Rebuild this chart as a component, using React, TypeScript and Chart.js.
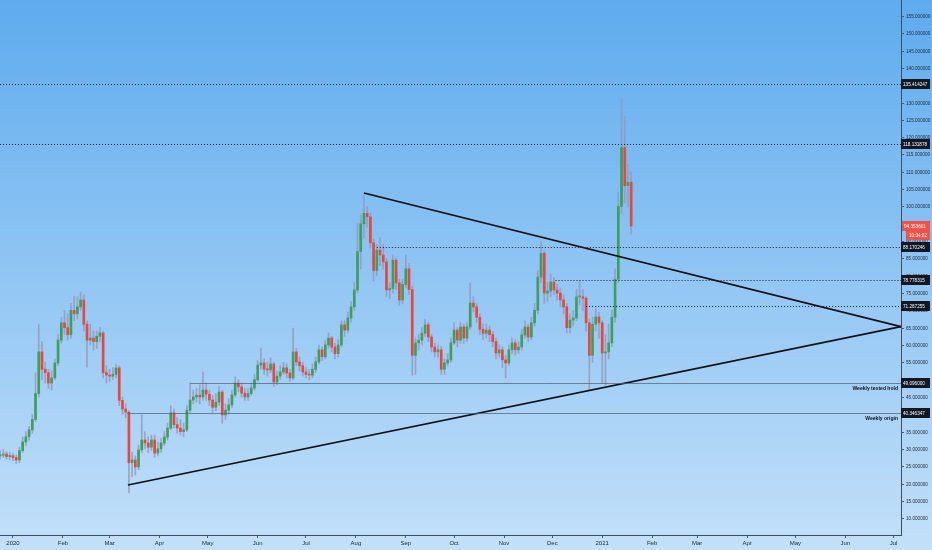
import React, { useEffect, useRef } from 'react';
import { Chart, registerables } from 'chart.js';

Chart.register(...registerables);

// ---- time axis (days since 2020-01-01), one candle every two days ----
const START_DAY = -8;
const STEP_DAYS = 2;
const OPEN0 = 28.0;

const closes = [
  28.2, 28.5, 27.8, 28.0, 27.5, 26.8, 29.5, 32.0, 33.5, 35.5,
  38.5, 46, 58, 53, 52, 49, 50.5, 54.8, 61.4, 66.4,
  65, 63, 70, 69, 71, 73, 66, 61.4, 62, 61,
  62.5, 63.5, 52, 51.3, 51, 51.5, 53.4, 44, 41.5, 40.6,
  26, 26.8, 24.8, 29.7, 32.6, 31.7, 30.5, 32.6, 28.8, 30,
  31.7, 33.4, 36, 40.4, 37, 36, 35, 35.5, 41.2, 44.1,
  45, 45.5, 45, 47, 45.8, 44.1, 42, 43.5, 46.4, 39.8,
  41.2, 42.7, 45.6, 49, 47.9, 46.1, 45, 46, 47.6, 50,
  54.2, 54.8, 53, 52.8, 54.5, 49.3, 51, 52.2, 53.4, 51.9,
  50.5, 58, 55.1, 54, 52.2, 51.5, 51.3, 53, 55.1, 58.6,
  56.6, 60, 62, 59.4, 57.5, 60, 65.8, 64.3, 67.8, 71,
  75.9, 87, 95, 98, 97, 89.5, 81.5, 87.4, 86, 84,
  75.9, 76.3, 84.5, 77.9, 73, 77.5, 82, 76, 57, 60.6,
  61.4, 63.4, 65.8, 62.3, 59.4, 58, 58.6, 53, 54.8, 55.7,
  60.6, 64.3, 61.4, 65.2, 62, 65.2, 72.1, 71, 68, 64.5,
  63.4, 64.3, 63, 61, 57.7, 58.6, 55.7, 54.8, 58.6, 60.6,
  58.6, 59.4, 62.9, 65.2, 62.3, 66.4, 70, 79.6, 86.5, 75,
  75.6, 78.2, 75.9, 75, 73, 71, 65, 67.2, 67.8, 73.9,
  73.9, 73.5, 66.4, 57, 66, 68.1, 66.4, 57.7, 58, 60.6,
  68, 79, 100, 117, 106, 107, 94.35,
];

const highs = [
  29.5, 29.8, 29.2, 29.0, 28.8, 28.2, 30.5, 33.5, 35, 36.5,
  40, 52, 66, 61, 55, 53, 52.5, 56, 63, 68,
  70, 69, 72, 74, 74, 75.3, 74.5, 67, 66, 64,
  64, 65, 64, 54, 53, 53.5, 54.5, 54, 45, 43,
  41, 29, 28, 31, 39.8, 35, 33.5, 34, 34, 32,
  33, 35, 37.5, 42.4, 41.5, 39, 38.5, 37.5, 42.5, 49,
  47, 47.5, 48.5, 52.2, 49, 47, 45.5, 46, 48, 47,
  43, 44.5, 47, 50.8, 50, 49, 47.5, 47.5, 49, 51.5,
  55.5, 59.1, 56, 55, 56.3, 55, 52.5, 54, 55, 54.5,
  53, 64.9, 59, 56.5, 55, 53.5, 53, 54.5, 56.5, 60,
  59.5, 61.5, 63.5, 62.5, 60.5, 61.5, 67, 67, 69.5, 72.5,
  78, 95.2, 97.5, 103.3, 100, 98, 90.5, 89, 90.9, 89,
  85, 78, 86, 85, 79, 79, 86, 83.5, 77, 62,
  63, 65, 67.5, 66.5, 63, 60.5, 60, 59.5, 56, 57.5,
  62, 66.5, 65, 66.5, 66, 66.5, 77.9, 74, 72, 69,
  66, 66, 65.5, 64, 62, 60, 59.5, 57, 60, 62,
  61.5, 61, 64.5, 67, 66, 68, 72, 81.5, 89.7, 87,
  78, 80.5, 79.5, 77.5, 76.5, 74.5, 72, 69, 70, 76,
  78.5, 76, 74, 67.5, 68, 70.5, 69.5, 67, 63, 66,
  70, 82, 104, 131.3, 126, 112, 110,
];

const lows = [
  27.0, 27.5, 27.0, 26.8, 26.5, 25.8, 26.0, 29, 31, 32.5,
  34.5, 38, 45, 50, 49, 47.5, 47, 50, 54, 60.5,
  63, 61.5, 62, 67, 67.5, 70, 64, 53.6, 60, 58.5,
  59, 61, 50.5, 49, 49.5, 50, 50.5, 42.5, 40, 39,
  17.3, 22, 22.5, 24, 29, 30, 29, 29.5, 27.5, 28,
  29, 31, 32.5, 35.5, 36, 34.5, 34, 33.5, 35, 40.5,
  43, 43.5, 43, 44, 44, 42.5, 40.5, 41, 42.5, 37.4,
  38.5, 40, 42, 45, 46.5, 45, 44, 44, 45.5, 47,
  49.5, 53, 51.5, 51, 52, 48, 48.5, 50, 51.5, 50.5,
  49.5, 50, 54, 52.5, 51, 50.5, 50, 50.5, 52, 54.5,
  55.5, 56, 59, 58, 56, 56.5, 59.5, 62.5, 63.5, 66.5,
  70, 75, 82, 91, 94, 88, 78.5, 80, 83, 82,
  74, 73.5, 75, 76, 71.5, 72, 76.5, 74.5, 51.3, 51.5,
  58.5, 60, 62.5, 61, 58, 56.5, 56.5, 51.5, 51.5, 54,
  55, 60, 59.5, 60.5, 60.5, 61, 64.5, 69.5, 66.5, 63,
  61.5, 62, 61, 59.5, 56, 56.5, 53.5, 50.5, 54, 57.5,
  57, 57.5, 58.5, 62, 61, 61.5, 65.5, 69, 78, 72,
  72.5, 74, 74.5, 73, 71, 69, 63.5, 63.5, 65.5, 67,
  71.5, 70, 64, 47, 55, 64, 62, 49, 48.5, 56,
  59.5, 66.5, 78, 98, 101, 100, 92,
];

// ---- axes ----
const monthTickDays = [0, 31, 60, 91, 121, 152, 182, 213, 244, 274, 305, 335, 366, 397, 425, 456, 486, 517, 547];
const monthTickLabels = ['2020', 'Feb', 'Mar', 'Apr', 'May', 'Jun', 'Jul', 'Aug', 'Sep', 'Oct', 'Nov', 'Dec', '2021', 'Feb', 'Mar', 'Apr', 'May', 'Jun', 'Jul'];
const yTickValues = [10, 15, 20, 25, 30, 35, 40, 45, 50, 55, 60, 65, 70, 75, 80, 85, 90, 95, 100, 105, 110, 115, 120, 125, 130, 135, 140, 145, 150, 155];
const X_MIN = -8.07;
const X_MAX = 551.6;
const Y_MIN = 5.14;
const Y_MAX = 159.6;

// ---- drawings ----
const levelValues = [135.414247, 118.131878, 88.170246, 78.778315, 71.267255, 49.096, 40.346347];
const levelStartDays = [-8.07, -8.07, 226, 337, 356, 110, 71];
const levelKinds = ['dotted', 'dotted', 'dotted', 'dotted', 'dotted', 'solid', 'solid'];
const levelNotes = ['', '', '', '', '', 'Weekly tested hold', 'Weekly origin'];
const upperTrend = [{ x: 218, y: 103.9 }, { x: 551.6, y: 65.3 }];
const lowerTrend = [{ x: 71.4, y: 19.6 }, { x: 551.6, y: 65.3 }];
const lastPrice = 94.353601;
const countdownText = '10:34:02';

const UP = '#3f9e5c';
const DOWN = '#e8473b';
const WICK = 'rgba(150,150,182,0.8)';
const BG_TOP = '#5eabee';
const BG_BOTTOM = '#c3e0f9';
const AXIS_COLOR = '#4a5b6e';
const FONT = "'Liberation Sans', Arial, sans-serif";
const NARROW = 0.84;

function narrowText(ctx: any, text: string, x: number, y: number) {
  ctx.save();
  ctx.translate(x, y);
  ctx.scale(NARROW, 1);
  ctx.fillText(text, 0, 0);
  ctx.restore();
}

const bgPlugin = {
  id: 'bgGradient',
  beforeDraw(chart: any) {
    const { ctx, width, height } = chart;
    const g = ctx.createLinearGradient(0, 0, 0, height);
    g.addColorStop(0, BG_TOP);
    g.addColorStop(1, BG_BOTTOM);
    ctx.save();
    ctx.fillStyle = g;
    ctx.fillRect(0, 0, width, height);
    ctx.restore();
  },
};

const levelsPlugin = {
  id: 'levels',
  afterDatasetsDraw(chart: any) {
    const { ctx, chartArea } = chart;
    const xs = chart.scales.x;
    const ys = chart.scales.y;
    levelValues.forEach((v, i) => {
      const py = Math.round(ys.getPixelForValue(v)) + 0.5;
      const px0 = Math.max(chartArea.left, xs.getPixelForValue(levelStartDays[i]));
      ctx.save();
      ctx.beginPath();
      if (levelKinds[i] === 'dotted') {
        ctx.setLineDash([1, 2]);
        ctx.strokeStyle = '#1a1f2b';
      } else {
        ctx.strokeStyle = 'rgba(80,92,112,0.7)';
      }
      ctx.lineWidth = 1;
      ctx.moveTo(px0, py);
      ctx.lineTo(chartArea.right, py);
      ctx.stroke();
      if (levelNotes[i]) {
        ctx.setLineDash([]);
        ctx.font = 'bold 6px ' + FONT;
        ctx.fillStyle = '#111';
        ctx.textAlign = 'right';
        ctx.textBaseline = 'top';
        narrowText(ctx, levelNotes[i], chartArea.right - 3, py + 1.5);
      }
      ctx.restore();
    });
  },
};

const axisTextPlugin = {
  id: 'axisText',
  afterDraw(chart: any) {
    const { ctx, chartArea } = chart;
    const ys = chart.scales.y;
    const left = chartArea.right;
    ctx.save();
    // y tick marks
    ctx.strokeStyle = AXIS_COLOR;
    ctx.lineWidth = 1;
    ctx.beginPath();
    yTickValues.forEach((v) => {
      const py = Math.round(ys.getPixelForValue(v)) + 0.5;
      ctx.moveTo(left, py);
      ctx.lineTo(left + 3, py);
    });
    ctx.stroke();
    ctx.font = '5.5px ' + FONT;
    ctx.textBaseline = 'middle';
    ctx.textAlign = 'left';
    // y tick labels
    ctx.fillStyle = '#222b36';
    yTickValues.forEach((v) => {
      const py = ys.getPixelForValue(v);
      narrowText(ctx, v.toFixed(6), left + 5, py + 0.5);
    });
    // level price tags
    levelValues.forEach((v) => {
      const py = Math.round(ys.getPixelForValue(v));
      ctx.fillStyle = '#131722';
      ctx.fillRect(left, py - 5, 29, 10);
      ctx.fillStyle = '#ffffff';
      narrowText(ctx, v.toFixed(6), left + 2, py + 0.5);
    });
    // last price tag + countdown
    const lp = Math.round(ys.getPixelForValue(lastPrice));
    ctx.fillStyle = '#f0524a';
    ctx.fillRect(left + 1, lp - 5, 28, 10);
    ctx.fillRect(left + 5, lp + 5, 24, 9);
    ctx.fillStyle = '#ffffff';
    narrowText(ctx, lastPrice.toFixed(6), left + 3, lp + 0.5);
    narrowText(ctx, countdownText, left + 8, lp + 9.5);
    ctx.restore();
  },
};

export default function App() {
  const canvasRef = useRef<HTMLCanvasElement | null>(null);

  useEffect(() => {
    const canvas = canvasRef.current;
    if (!canvas) return;

    const days = closes.map((_, i) => START_DAY + i * STEP_DAYS);
    const opens = closes.map((_, i) => (i === 0 ? OPEN0 : closes[i - 1]));
    const bodyData = closes.map((c, i) => ({ x: days[i], y: [opens[i], c] }));
    const wickData = closes.map((_, i) => ({ x: days[i], y: [lows[i], highs[i]] }));
    const bodyColors = closes.map((c, i) => (c >= opens[i] ? UP : DOWN));

    const chart = new Chart(canvas, {
      type: 'bar',
      data: {
        datasets: [
          {
            type: 'line',
            data: upperTrend,
            borderColor: '#0d0f14',
            borderWidth: 1.6,
            pointRadius: 0,
            order: 0,
          } as any,
          {
            type: 'line',
            data: lowerTrend,
            borderColor: '#0d0f14',
            borderWidth: 1.6,
            pointRadius: 0,
            order: 0,
          } as any,
          {
            type: 'bar',
            data: bodyData as any,
            backgroundColor: bodyColors,
            barThickness: 2,
            minBarLength: 1,
            grouped: false,
            order: 1,
          } as any,
          {
            type: 'bar',
            data: wickData as any,
            backgroundColor: WICK,
            barThickness: 1,
            grouped: false,
            order: 2,
          } as any,
        ],
      },
      options: {
        animation: false,
        responsive: false,
        devicePixelRatio: 1,
        layout: { padding: 0 },
        plugins: {
          legend: { display: false },
          tooltip: { enabled: false },
        },
        scales: {
          x: {
            type: 'linear',
            min: X_MIN,
            max: X_MAX,
            offset: false,
            grid: { display: true, drawOnChartArea: false, drawTicks: true, tickLength: 3, color: AXIS_COLOR, offset: false },
            border: { display: true, color: '#3e4e60', width: 1 },
            afterBuildTicks: (scale: any) => {
              scale.ticks = monthTickDays.map((v) => ({ value: v }));
            },
            afterFit: (scale: any) => {
              scale.height = 15;
            },
            ticks: {
              autoSkip: false,
              maxRotation: 0,
              padding: 2,
              color: '#222b36',
              font: { size: 6, family: FONT },
              callback: (_v: any, index: number) => monthTickLabels[index],
            },
          },
          y: {
            type: 'linear',
            position: 'right',
            min: Y_MIN,
            max: Y_MAX,
            grid: { display: false },
            border: { display: true, color: '#3e4e60', width: 1 },
            afterBuildTicks: (scale: any) => {
              scale.ticks = yTickValues.map((v) => ({ value: v }));
            },
            afterFit: (scale: any) => {
              scale.width = 31;
            },
            ticks: {
              display: false,
            },
          },
        },
      },
      plugins: [bgPlugin, levelsPlugin, axisTextPlugin],
    } as any);

    return () => chart.destroy();
  }, []);

  return (
    <div style={{ position: 'fixed', left: 0, top: 0, width: 932, height: 550 }}>
      <canvas ref={canvasRef} width={932} height={550} style={{ display: 'block', width: 932, height: 550 }} />
    </div>
  );
}
